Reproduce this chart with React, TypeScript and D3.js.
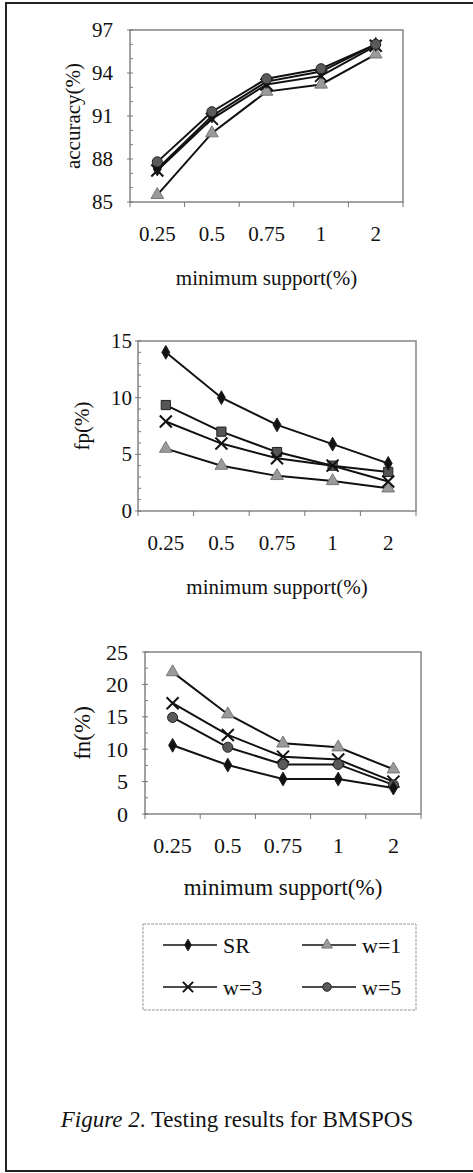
import React from "react";
import * as d3 from "d3";

// categories shared by all three panels
const supports = ["0.25", "0.5", "0.75", "1", "2"];

// accuracy(%)
const accSR = [87.3, 91.0, 93.4, 94.1, 96.0];
const accW1 = [85.5, 89.8, 92.7, 93.2, 95.3];
const accW3 = [87.2, 90.8, 93.2, 93.8, 95.9];
const accW5 = [87.8, 91.3, 93.6, 94.3, 96.0];
const accTicks = [85, 88, 91, 94, 97];

// fp(%)
const fpSR = [14.0, 10.0, 7.6, 5.9, 4.2];
const fpW1 = [5.5, 4.0, 3.1, 2.65, 2.0];
const fpW3 = [7.9, 5.95, 4.65, 4.0, 2.6];
const fpW5 = [9.35, 7.0, 5.2, 4.0, 3.45];
const fpTicks = [0, 5, 10, 15];

// fn(%)
const fnSR = [10.6, 7.55, 5.4, 5.4, 4.0];
const fnW1 = [21.9, 15.4, 10.9, 10.3, 6.9];
const fnW3 = [17.1, 12.2, 8.85, 8.4, 5.0];
const fnW5 = [14.9, 10.3, 7.65, 7.65, 4.5];
const fnTicks = [0, 5, 10, 15, 20, 25];

const legendNames = ["SR", "w=1", "w=3", "w=5"];

const FONT = '"Liberation Serif", "DejaVu Serif", serif';

type MarkerKind = "diamond" | "triangle" | "x" | "circle" | "square";

const Marker = ({ kind, x, y, s = 1 }: { kind: MarkerKind; x: number; y: number; s?: number }) => {
  if (kind === "x") {
    const h = 6 * s;
    return (
      <path
        d={`M${x - h},${y - h}L${x + h},${y + h}M${x - h},${y + h}L${x + h},${y - h}`}
        stroke="#111"
        strokeWidth={2}
        fill="none"
      />
    );
  }
  const types: Record<string, d3.SymbolType> = {
    diamond: d3.symbolDiamond,
    triangle: d3.symbolTriangle,
    circle: d3.symbolCircle,
    square: d3.symbolSquare,
  };
  const sizes: Record<string, number> = { diamond: 55, triangle: 70, circle: 80, square: 85 };
  const fills: Record<string, string> = { diamond: "#111", triangle: "#9a9a9a", circle: "#5a5a5a", square: "#555" };
  const path = d3.symbol().type(types[kind]).size(sizes[kind] * s * s)();
  return (
    <path
      d={path || ""}
      transform={`translate(${x},${y})`}
      fill={fills[kind]}
      stroke={kind === "triangle" ? "#666" : "#222"}
      strokeWidth={kind === "triangle" ? 0.8 : 1}
    />
  );
};

type Series = { values: number[]; marker: MarkerKind };

type PanelProps = {
  left: number;
  right: number;
  top: number;
  bottom: number;
  domain: [number, number];
  ticks: number[];
  minorStep: number;
  tickRight: number;
  xLabelY: number;
  titleY: number;
  yTitle: string;
  yTitleX: number;
  fs: number;
  titleFs: number;
  series: Series[];
  ms?: number;
};

const Panel = (p: PanelProps) => {
  const x = d3.scaleBand<string>().domain(supports).range([p.left, p.right]);
  const y = d3.scaleLinear().domain(p.domain).range([p.bottom, p.top]);
  const line = d3
    .line<number>()
    .x((_, i) => (x(supports[i]) as number) + x.bandwidth() / 2)
    .y((d) => y(d));
  const minors = d3.range(p.domain[0], p.domain[1] + 0.001, p.minorStep);
  const bounds = supports.map((c) => x(c) as number).concat([p.right]);
  return (
    <g fill="#111">
      <rect
        x={p.left}
        y={p.top}
        width={p.right - p.left}
        height={p.bottom - p.top}
        fill="none"
        stroke="#8c8c8c"
        strokeWidth={1.6}
      />
      {minors.map((v, i) => (
        <line key={"m" + i} x1={p.left} x2={p.left + 3} y1={y(v)} y2={y(v)} stroke="#777" strokeWidth={1} />
      ))}
      {p.ticks.map((t) => (
        <g key={"t" + t}>
          <line x1={p.left - 3} x2={p.left} y1={y(t)} y2={y(t)} stroke="#777" strokeWidth={1} />
          <text x={p.tickRight} y={y(t)} textAnchor="end" dominantBaseline="central" fontSize={p.fs}>
            {t}
          </text>
        </g>
      ))}
      {bounds.map((b, i) => (
        <line key={"b" + i} x1={b} x2={b} y1={p.bottom} y2={p.bottom + 5} stroke="#777" strokeWidth={1} />
      ))}
      {supports.map((c) => (
        <text
          key={c}
          x={(x(c) as number) + x.bandwidth() / 2}
          y={p.xLabelY}
          textAnchor="middle"
          dominantBaseline="central"
          fontSize={p.fs}
        >
          {c}
        </text>
      ))}
      <text
        x={(p.left + p.right) / 2}
        y={p.titleY}
        textAnchor="middle"
        dominantBaseline="central"
        fontSize={p.titleFs}
      >
        minimum support(%)
      </text>
      <text
        transform={`translate(${p.yTitleX},${(p.top + p.bottom) / 2}) rotate(-90)`}
        textAnchor="middle"
        dominantBaseline="central"
        fontSize={p.titleFs}
      >
        {p.yTitle}
      </text>
      {p.series.map((s, si) => (
        <g key={"s" + si}>
          <path d={line(s.values) || ""} fill="none" stroke="#111" strokeWidth={2} />
          {s.values.map((v, i) => (
            <Marker
              key={i}
              kind={s.marker}
              x={(x(supports[i]) as number) + x.bandwidth() / 2}
              y={y(v)}
              s={p.ms}
            />
          ))}
        </g>
      ))}
    </g>
  );
};

const legendMarkers: MarkerKind[] = ["diamond", "triangle", "x", "circle"];

const Legend = () => {
  const cols = [163, 302];
  const rows = [945, 987];
  return (
    <g>
      <rect x={143} y={924} width={273} height={86} fill="none" stroke="#999" strokeWidth={1} strokeDasharray="3 1" />
      {legendNames.map((n, i) => {
        const cx = cols[i % 2];
        const cy = rows[Math.floor(i / 2)];
        return (
          <g key={n}>
            <line x1={cx} x2={cx + 54} y1={cy} y2={cy} stroke="#111" strokeWidth={1.5} />
            <Marker kind={legendMarkers[i]} x={cx + 25} y={cy} s={0.85} />
            <text x={cx + 60} y={cy} dominantBaseline="central" fontSize={22} fill="#111">
              {n}
            </text>
          </g>
        );
      })}
    </g>
  );
};

const App = () => {
  return (
    <svg
      width={473}
      height={1173}
      style={{ position: "absolute", left: 0, top: 0, display: "block", background: "#fff", fontFamily: FONT }}
    >
      <rect x={6} y={3} width={480} height={1168} fill="none" stroke="#222" strokeWidth={2} />
      <Panel
        left={130}
        right={403}
        top={30}
        bottom={202}
        domain={[85, 97]}
        ticks={accTicks}
        minorStep={1}
        tickRight={113}
        xLabelY={234}
        titleY={278}
        yTitle="accuracy(%)"
        yTitleX={73}
        fs={21}
        titleFs={21}
        series={[
          { values: accW1, marker: "triangle" },
          { values: accSR, marker: "diamond" },
          { values: accW3, marker: "x" },
          { values: accW5, marker: "circle" },
        ]}
      />
      <Panel
        left={138}
        right={416}
        top={341}
        bottom={511}
        domain={[0, 15]}
        ticks={fpTicks}
        minorStep={1}
        tickRight={132}
        xLabelY={543}
        titleY={587}
        yTitle="fp(%)"
        yTitleX={82}
        fs={21}
        titleFs={21}
        series={[
          { values: fpW1, marker: "triangle" },
          { values: fpW5, marker: "square" },
          { values: fpW3, marker: "x" },
          { values: fpSR, marker: "diamond" },
        ]}
      />
      <Panel
        left={145}
        right={421}
        top={652}
        bottom={814}
        domain={[0, 25]}
        ticks={fnTicks}
        minorStep={2.5}
        tickRight={128}
        xLabelY={845}
        titleY={887}
        yTitle="fn(%)"
        yTitleX={82}
        fs={22}
        titleFs={23}
        series={[
          { values: fnW1, marker: "triangle" },
          { values: fnW3, marker: "x" },
          { values: fnW5, marker: "circle" },
          { values: fnSR, marker: "diamond" },
        ]}
      />
      <Legend />
      <text x={237} y={1119} textAnchor="middle" dominantBaseline="central" fontSize={23} fill="#111">
        <tspan fontStyle="italic">Figure 2</tspan>. Testing results for BMSPOS
      </text>
    </svg>
  );
};

export default App;
